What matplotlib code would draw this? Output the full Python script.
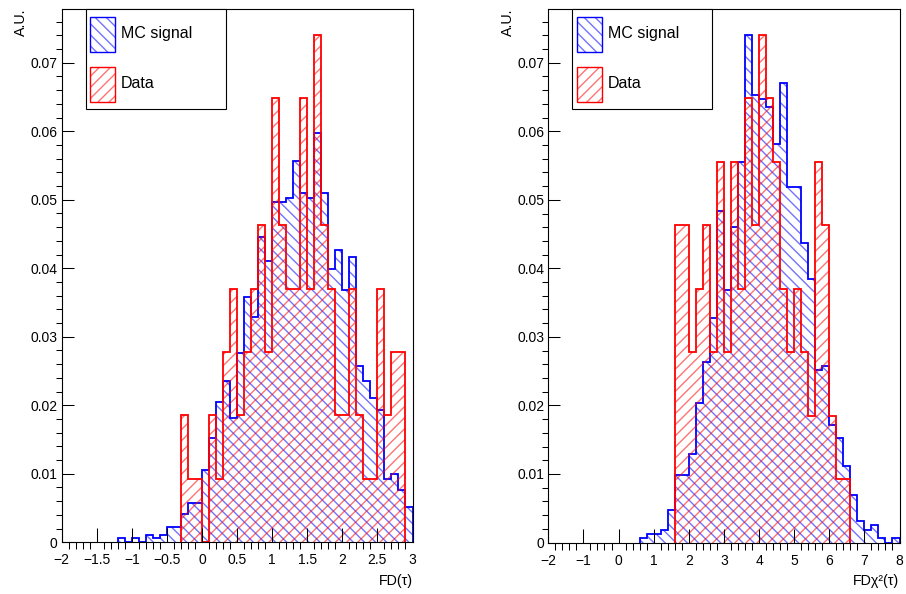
import numpy as np
import matplotlib
matplotlib.use("Agg")
import matplotlib.pyplot as plt
from matplotlib.patches import Rectangle
from matplotlib.ticker import MultipleLocator, FuncFormatter

plt.rcParams['font.family'] = ['Liberation Sans', 'DejaVu Sans']
plt.rcParams['hatch.linewidth'] = 1.0

W, H, DPI = 906, 594, 100

# number of data events (heights are count / n_data)
n_data = 108

# left pad: FD(tau), 50 bins from -2 to 3
left_range = (-2, 3)
mc_left = [0] * 8 + [
    0.0006, 0, 0.0006, 0, 0.0011, 0.0006, 0.0011, 0.0023, 0.0023, 0.0041, 0.0058, 0.0058,
    0.0106, 0.0152, 0.0205, 0.0235, 0.0181, 0.0276, 0.0358, 0.0329, 0.0446, 0.041,
    0.0497, 0.0497, 0.0503, 0.0556, 0.051, 0.0503, 0.0597, 0.051, 0.0399, 0.0427,
    0.0369, 0.0416, 0.0257, 0.0235, 0.021, 0.0193, 0.0093, 0.0099, 0.0076, 0.0052]
data_left = [0] * 17 + [
    2, 1, 1, 0, 2, 1, 3, 4, 2, 3,
    4, 5, 3, 7, 5, 4, 4, 7, 4, 8,
    5, 4, 2, 2, 4, 2, 1, 1, 4, 2,
    3, 3, 0]

# right pad: FD chi2(tau), 50 bins from -2 to 8
right_range = (-2, 8)
mc_right = [0] * 13 + [
    0.0006, 0.0012, 0.0012, 0.0018, 0.0048, 0.0099, 0.0099, 0.0129, 0.0204, 0.0263,
    0.0327, 0.0484, 0.0368, 0.046, 0.0555, 0.074, 0.0653, 0.0647, 0.0636, 0.0582,
    0.067, 0.0518, 0.0518, 0.0437, 0.0385, 0.0251, 0.0257, 0.0171, 0.0152, 0.0112,
    0.007, 0.0031, 0.0018, 0.0025, 0.0006, 0, 0.0006]
data_right = [0] * 18 + [
    5, 5, 3, 4, 5, 3, 6, 3, 6, 4,
    7, 5, 8, 7, 6, 4, 3, 4, 3, 2,
    6, 5, 2, 1, 1] + [0] * 7

labels = ["MC signal", "Data"]
x_titles = ["FD(\u03c4)", "FD\u03c7\u00b2(\u03c4)"]
y_title = "A.U."
y_max = 0.0778


def pt(p):
    # pixels -> points
    return p * 72.0 / DPI


def fx(p):
    return p / W


def fy(p):
    return 1 - p / H


def fmt(v, pos):
    s = "%g" % round(v, 6)
    return s.replace("-", "\u2212")


def draw_hist(ax, edges, vals, color, hcolor, hatch):
    vals = np.asarray(vals, float)
    nz = np.nonzero(vals)[0]
    lo, hi = nz[0], nz[-1] + 1
    ax.stairs(vals[lo:hi], edges[lo:hi + 1], fill=True, facecolor='none',
              edgecolor=hcolor, hatch=hatch, linewidth=0)
    ax.stairs(vals[lo:hi], edges[lo:hi + 1], color=color, linewidth=1.3, baseline=0)


blue, red = '#0000ff', '#ff0000'
blue_h, red_h = (0, 0, 1, 0.55), (1, 0, 0, 0.55)
mc_hatch, data_hatch = '\\\\\\', '///'

fig = plt.figure(figsize=(W / DPI, H / DPI), dpi=DPI)

# axes frames in pixels: left, top, right, bottom
frames = [(61.7, 9.3, 412.5, 542.3), (548.3, 9.3, 899.5, 542.5)]
ranges = [left_range, right_range]
mcs = [mc_left, mc_right]
datas = [data_left, data_right]
majors = [0.5, 1.0]
minors = [0.1, 0.2]

for i in range(2):
    l, t, r, b = frames[i]
    ax = fig.add_axes([fx(l), fy(b), (r - l) / W, (b - t) / H])
    edges = np.linspace(ranges[i][0], ranges[i][1], 51)
    draw_hist(ax, edges, mcs[i], blue, blue_h, mc_hatch)
    draw_hist(ax, edges, np.asarray(datas[i], float) / n_data, red, red_h, data_hatch)

    ax.set_xlim(*ranges[i])
    ax.set_ylim(0, y_max)
    ax.xaxis.set_major_locator(MultipleLocator(majors[i]))
    ax.xaxis.set_minor_locator(MultipleLocator(minors[i]))
    ax.yaxis.set_major_locator(MultipleLocator(0.01))
    ax.yaxis.set_minor_locator(MultipleLocator(0.002))
    ax.xaxis.set_major_formatter(FuncFormatter(fmt))
    ax.yaxis.set_major_formatter(FuncFormatter(fmt))
    ax.tick_params(direction='in', top=False, right=False, labelsize=10, width=0.75)
    ax.tick_params(axis='x', which='major', length=pt(14), pad=8)
    ax.tick_params(axis='x', which='minor', length=pt(7), width=0.75)
    ax.tick_params(axis='y', which='major', length=pt(12), pad=3)
    ax.tick_params(axis='y', which='minor', length=pt(6.5), width=0.75)
    for s in ax.spines.values():
        s.set_linewidth(0.8)

    # axis titles
    fig.text(fx(r), fy(581), x_titles[i], ha='right', va='center', fontsize=10.3)
    fig.text(fx(l - 40.5), fy(8), y_title, ha='center', va='top', rotation=90, fontsize=10.3)

    # legend box
    lx = l + 24
    fig.add_artist(Rectangle((fx(lx), fy(108.7)), 140 / W, (108.7 - t) / H,
                             transform=fig.transFigure, facecolor='white',
                             edgecolor='black', linewidth=0.8, zorder=5))
    for k, (lab, col, hc, ht) in enumerate(zip(labels, [blue, red], [blue_h, red_h],
                                                [mc_hatch, data_hatch])):
        top = 16.7 + k * 50
        fig.add_artist(Rectangle((fx(lx + 4.5), fy(top + 35)), 25 / W, 35 / H,
                                 transform=fig.transFigure, facecolor='none',
                                 edgecolor=hc, hatch=ht, linewidth=0, zorder=6))
        fig.add_artist(Rectangle((fx(lx + 4.5), fy(top + 35)), 25 / W, 35 / H,
                                 transform=fig.transFigure, facecolor='none',
                                 edgecolor=col, linewidth=1.0, zorder=7))
        fig.text(fx(lx + 35.5), fy(top + 17), lab, ha='left', va='center',
                 fontsize=11.5, zorder=8)

fig.savefig("out.png", dpi=DPI)
